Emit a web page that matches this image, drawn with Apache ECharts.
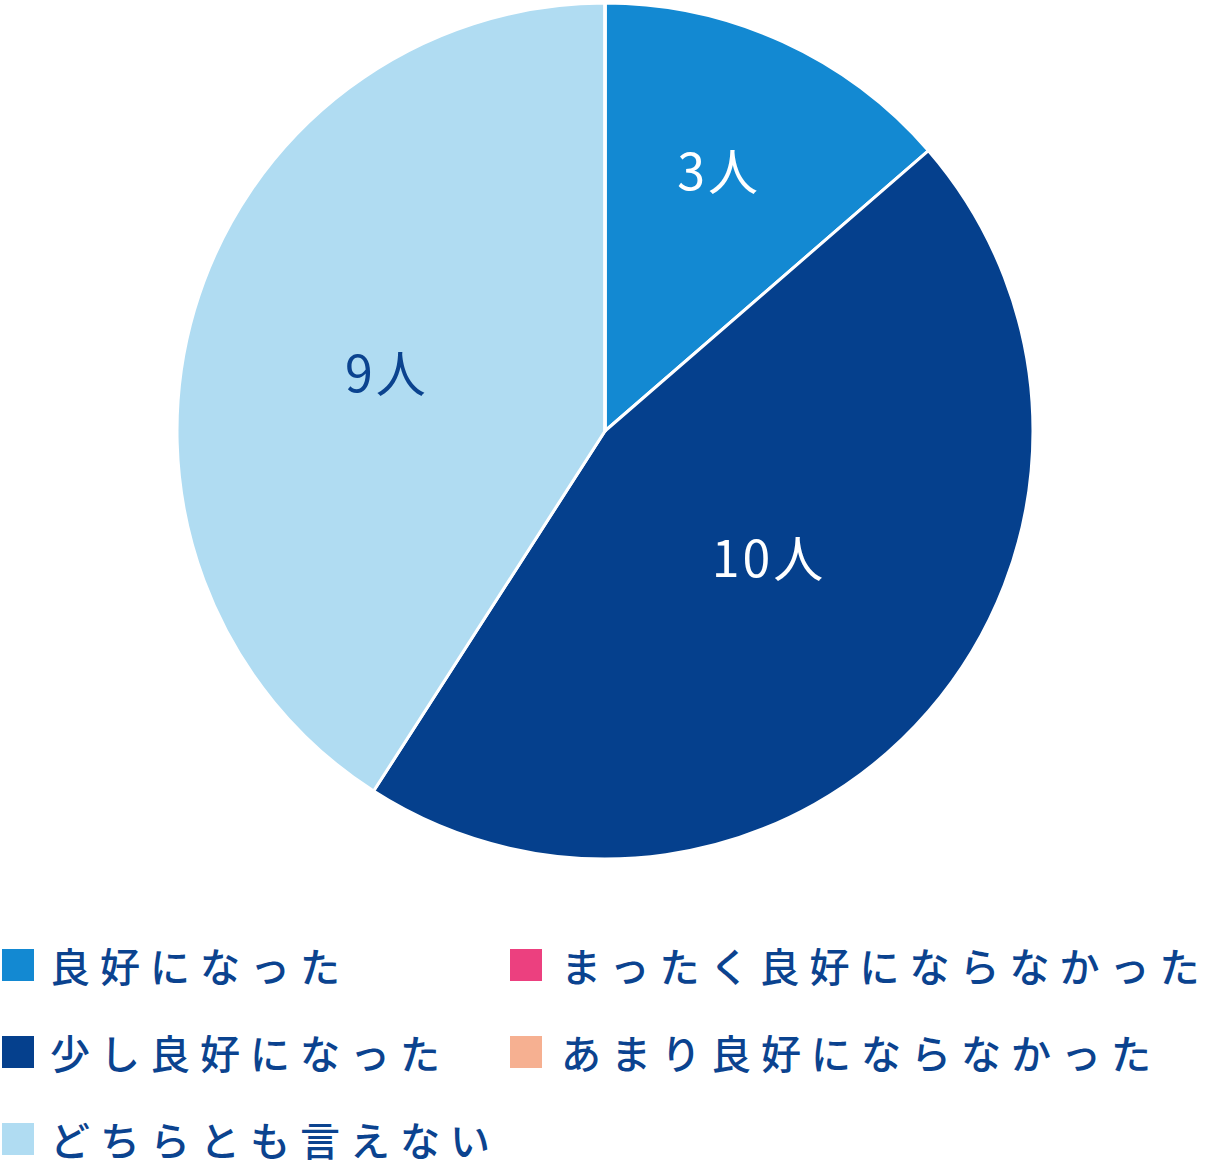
<!DOCTYPE html>
<html>
<head>
<meta charset="utf-8">
<script src="https://cdn.jsdelivr.net/npm/echarts@6/dist/echarts.min.js"></script>
<style>
html,body{margin:0;padding:0;background:#fff;}
#chart{width:1212px;height:1172px;}
#chart text{letter-spacing:3px;}
#chart text[style*="40px"]{letter-spacing:10px;}
</style>
</head>
<body>
<div id="chart"></div>
<script>
const categories = ['良好になった', '少し良好になった', 'どちらとも言えない', 'まったく良好にならなかった', 'あまり良好にならなかった'];
const values = [3, 10, 9, 0, 0];
const colors = ['#1389d2', '#05408d', '#b0dcf2', '#ec407f', '#f6b091'];
const labelColors = ['#ffffff', '#ffffff', '#0b438f', '#ffffff', '#ffffff'];
const labelOffsets = [[24, -66], [0, -18], [-10, 0], [0, 0], [0, 0]];
const legendCol1 = categories.slice(0, 3);
const legendCol2 = categories.slice(3);

const FONT = '"Noto Sans CJK JP", "Noto Sans", sans-serif';
const chart = echarts.init(document.getElementById('chart'), null, { renderer: 'svg' });

const data = categories.map((name, i) => ({
  name: name,
  value: values[i],
  itemStyle: { color: colors[i] },
  label: {
    show: values[i] > 0,
    color: labelColors[i],
    offset: labelOffsets[i]
  }
}));

function legendOf(left, names, padLeft) {
  return {
    orient: 'vertical',
    left: left,
    top: 945,
    padding: 0,
    itemWidth: 34,
    itemHeight: 34,
    itemGap: 47,
    icon: 'rect',
    textStyle: { fontFamily: FONT, fontSize: 40, lineHeight: 40, fontWeight: 500, color: '#0b438f', padding: [0, 0, 0, padLeft] },
    selectedMode: false,
    data: names
  };
}

chart.setOption({
  animation: false,
  color: colors,
  legend: [legendOf(0, legendCol1, 10), legendOf(508, legendCol2, 13)],
  series: [{
    type: 'pie',
    center: [605, 431],
    radius: 428,
    startAngle: 90,
    clockwise: true,
    avoidLabelOverlap: false,
    stillShowZeroSum: true,
    itemStyle: { borderColor: '#ffffff', borderWidth: 3 },
    label: {
      position: 'inside',
      formatter: '{c}人',
      fontFamily: FONT,
      fontSize: 50,
      fontWeight: 'normal'
    },
    labelLine: { show: false },
    emphasis: { disabled: true },
    data: data
  }]
});
</script>
</body>
</html>
